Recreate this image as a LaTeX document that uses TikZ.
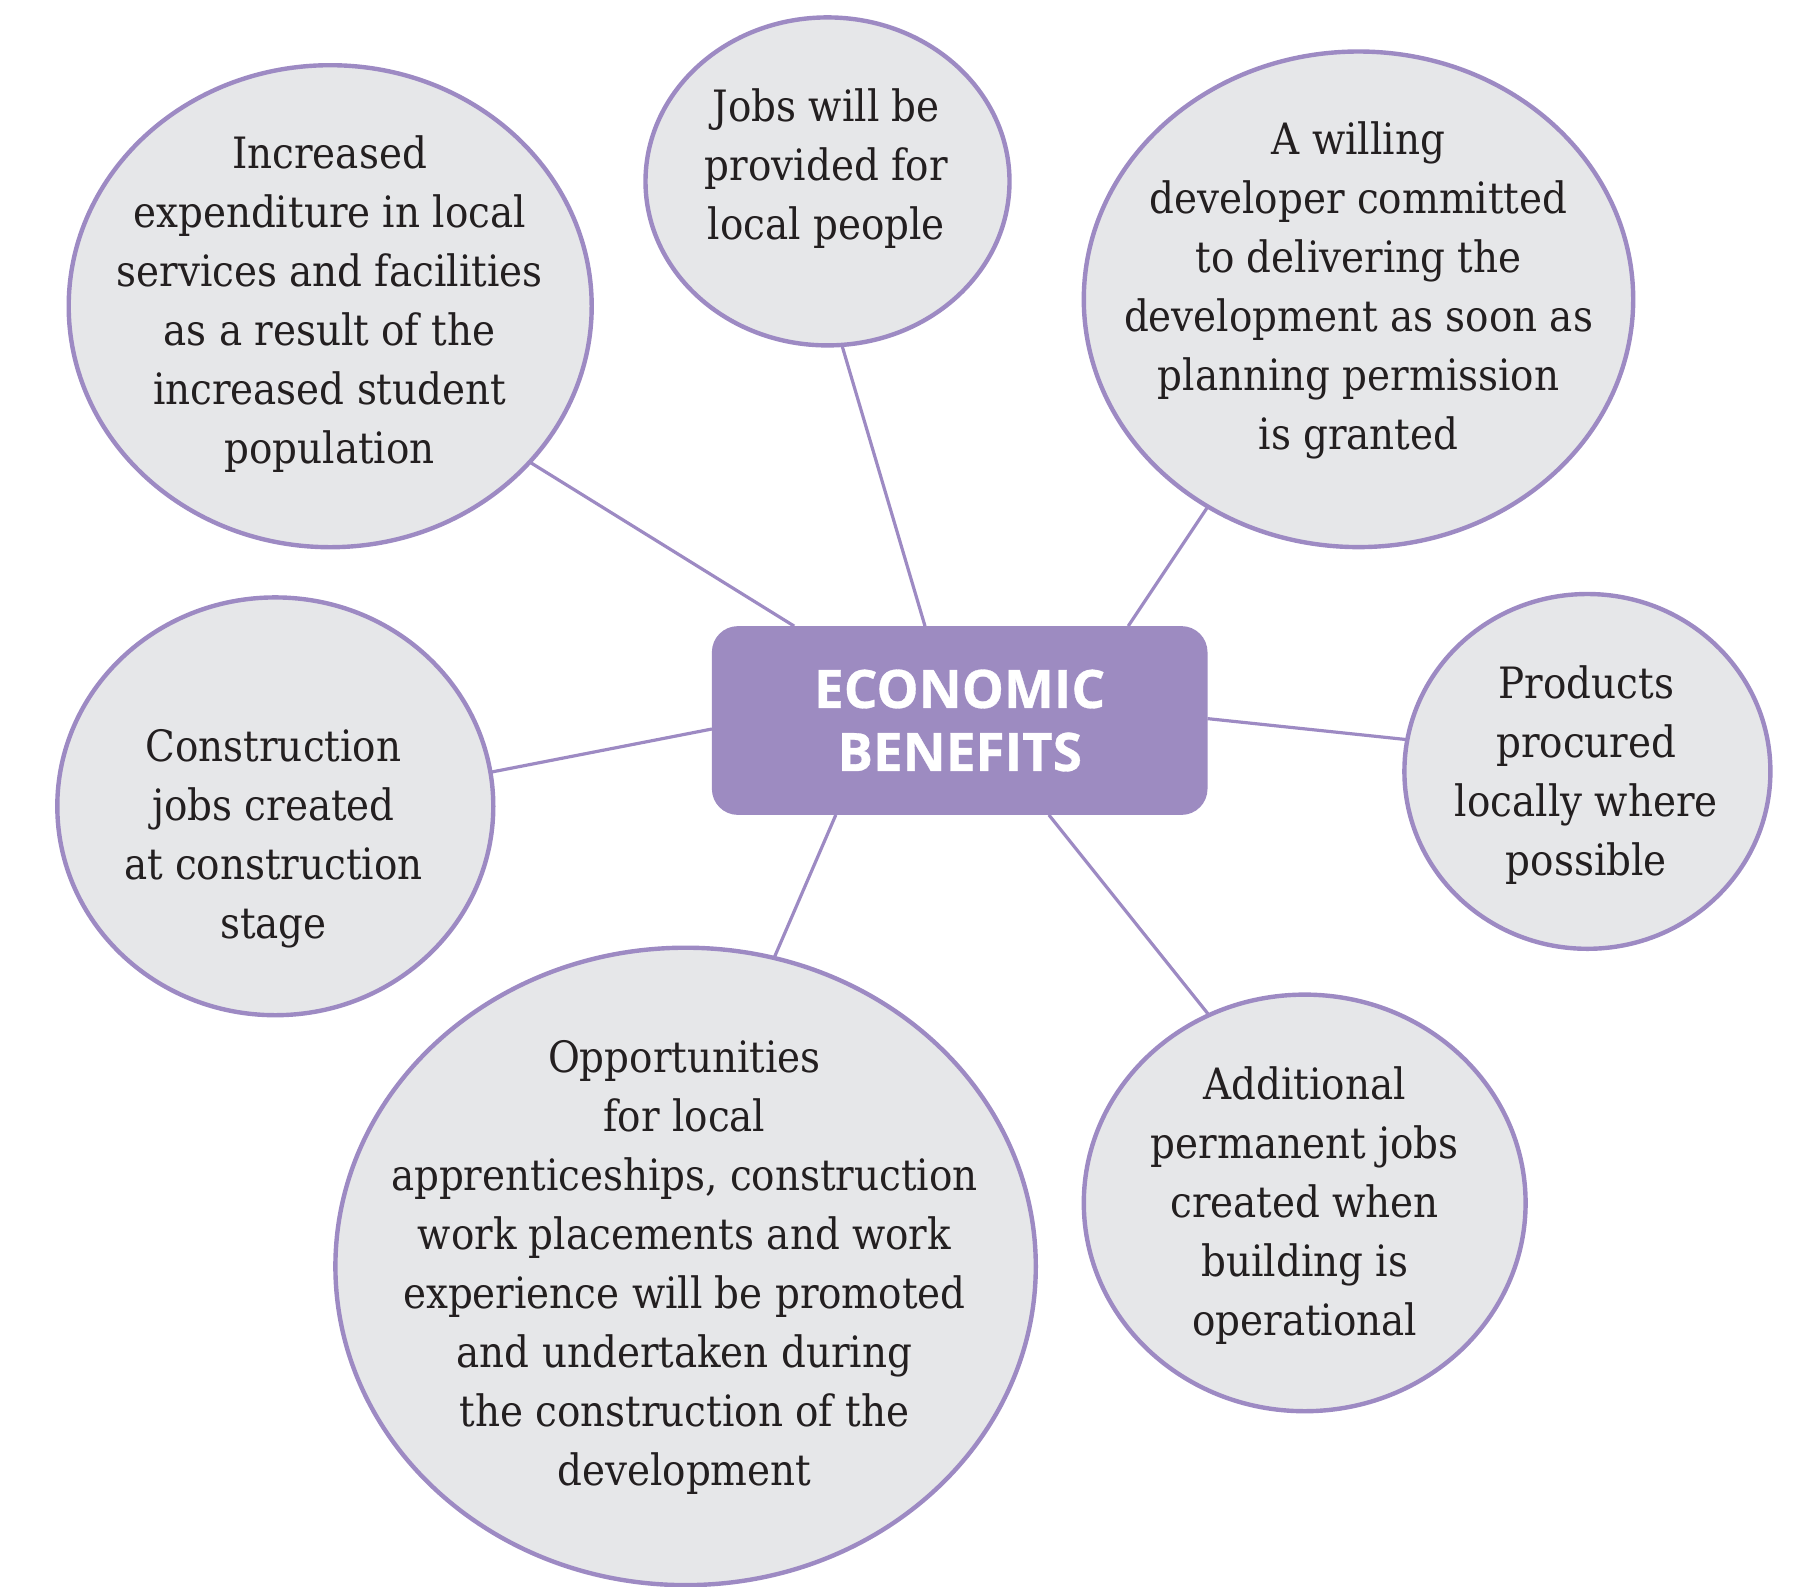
\documentclass[tikz,border=0pt]{standalone}
\usepackage{fontspec}
\setmainfont{DejaVu Serif Condensed}
\newfontfamily\titlefont[BoldFeatures={FakeBold=0.6}]{Open Sans}
\usetikzlibrary{shapes.geometric,calc}
\definecolor{bubblefill}{HTML}{E6E7E9}
\definecolor{bubbleline}{HTML}{9D8AC3}
\definecolor{boxfill}{HTML}{9D8BC1}
\definecolor{txtcol}{HTML}{231F20}
\tikzset{
  bubble/.style={ellipse, draw=bubbleline, line width=2.2pt, fill=bubblefill, inner sep=0pt, outer sep=0pt},
  bubtext/.style={align=center, text=txtcol, font=\fontsize{21.6}{29.5}\selectfont, inner sep=0pt},
  centerbox/.style={draw=none, fill=boxfill, rounded corners=13pt, minimum width=247.8pt, minimum height=94.4pt, inner sep=0pt, outer sep=0pt, align=center, text=white, font=\titlefont\bfseries\fontsize{26.5}{31.5}\selectfont},
  link/.style={draw=bubbleline, line width=1.6pt}
}
\begin{document}
\begin{tikzpicture}[x=0.5pt,y=-0.5pt]
\useasboundingbox (0,0) rectangle (1794,1586);
\node[centerbox] (c) at (959.7,720.5) {ECONOMIC\\BENEFITS};
\node[bubble, minimum width=261.5pt, minimum height=241pt] (e1) at (330.2,306.2) {};
\node[bubble, minimum width=182pt, minimum height=164pt] (e2) at (827.5,181.4) {};
\node[bubble, minimum width=274.7pt, minimum height=247.8pt] (e3) at (1358.5,299.3) {};
\node[bubble, minimum width=183pt, minimum height=177.4pt] (e4) at (1587.4,771.4) {};
\node[bubble, minimum width=218pt, minimum height=208.9pt] (e5) at (275.3,806.3) {};
\node[bubble, minimum width=350.2pt, minimum height=318.7pt] (e6) at (685.6,1266.4) {};
\node[bubble, minimum width=220.9pt, minimum height=208.3pt] (e7) at (1304.7,1202.9) {};
\node[bubtext] (t1) at (329.6,304.5) {Increased\\expenditure in local\\services and facilities\\as a result of the\\increased student\\population};
\node[bubtext] (t2) at (826.3,169) {Jobs will be\\provided for\\local people};
\node[bubtext] (t3) at (1358.5,290.6) {A willing\\developer committed\\to delivering the\\development as soon as\\planning permission\\is granted};
\node[bubtext] (t4) at (1586.3,775.4) {Products\\procured\\locally where\\possible};
\node[bubtext] (t5) at (273.5,838.3) {Construction\\jobs created\\at construction\\stage};
\node[bubtext] (t6) at (684.4,1267.5) {Opportunities\\for local\\apprenticeships, construction\\work placements and work\\experience will be promoted\\and undertaken during\\the construction of the\\development};
\node[bubtext] (t7) at (1304.7,1205.7) {Additional\\permanent jobs\\created when\\building is\\operational};
\draw[link] (e1.-38.4) -- ($(c.north west)!0.166!(c.north east)$);
\draw[link] (e2.-85.7) -- ($(c.north west)!0.43!(c.north east)$);
\draw[link] (e3.-126.6) -- ($(c.north west)!0.84!(c.north east)$);
\draw[link] (e4.170.4) -- ($(c.north east)!0.49!(c.south east)$);
\draw[link] (e5.9.05) -- ($(c.north west)!0.545!(c.south west)$);
\draw[link] (e6.74.4) -- ($(c.south west)!0.25!(c.south east)$);
\draw[link] (e7.117.5) -- ($(c.south west)!0.68!(c.south east)$);
\end{tikzpicture}
\end{document}
